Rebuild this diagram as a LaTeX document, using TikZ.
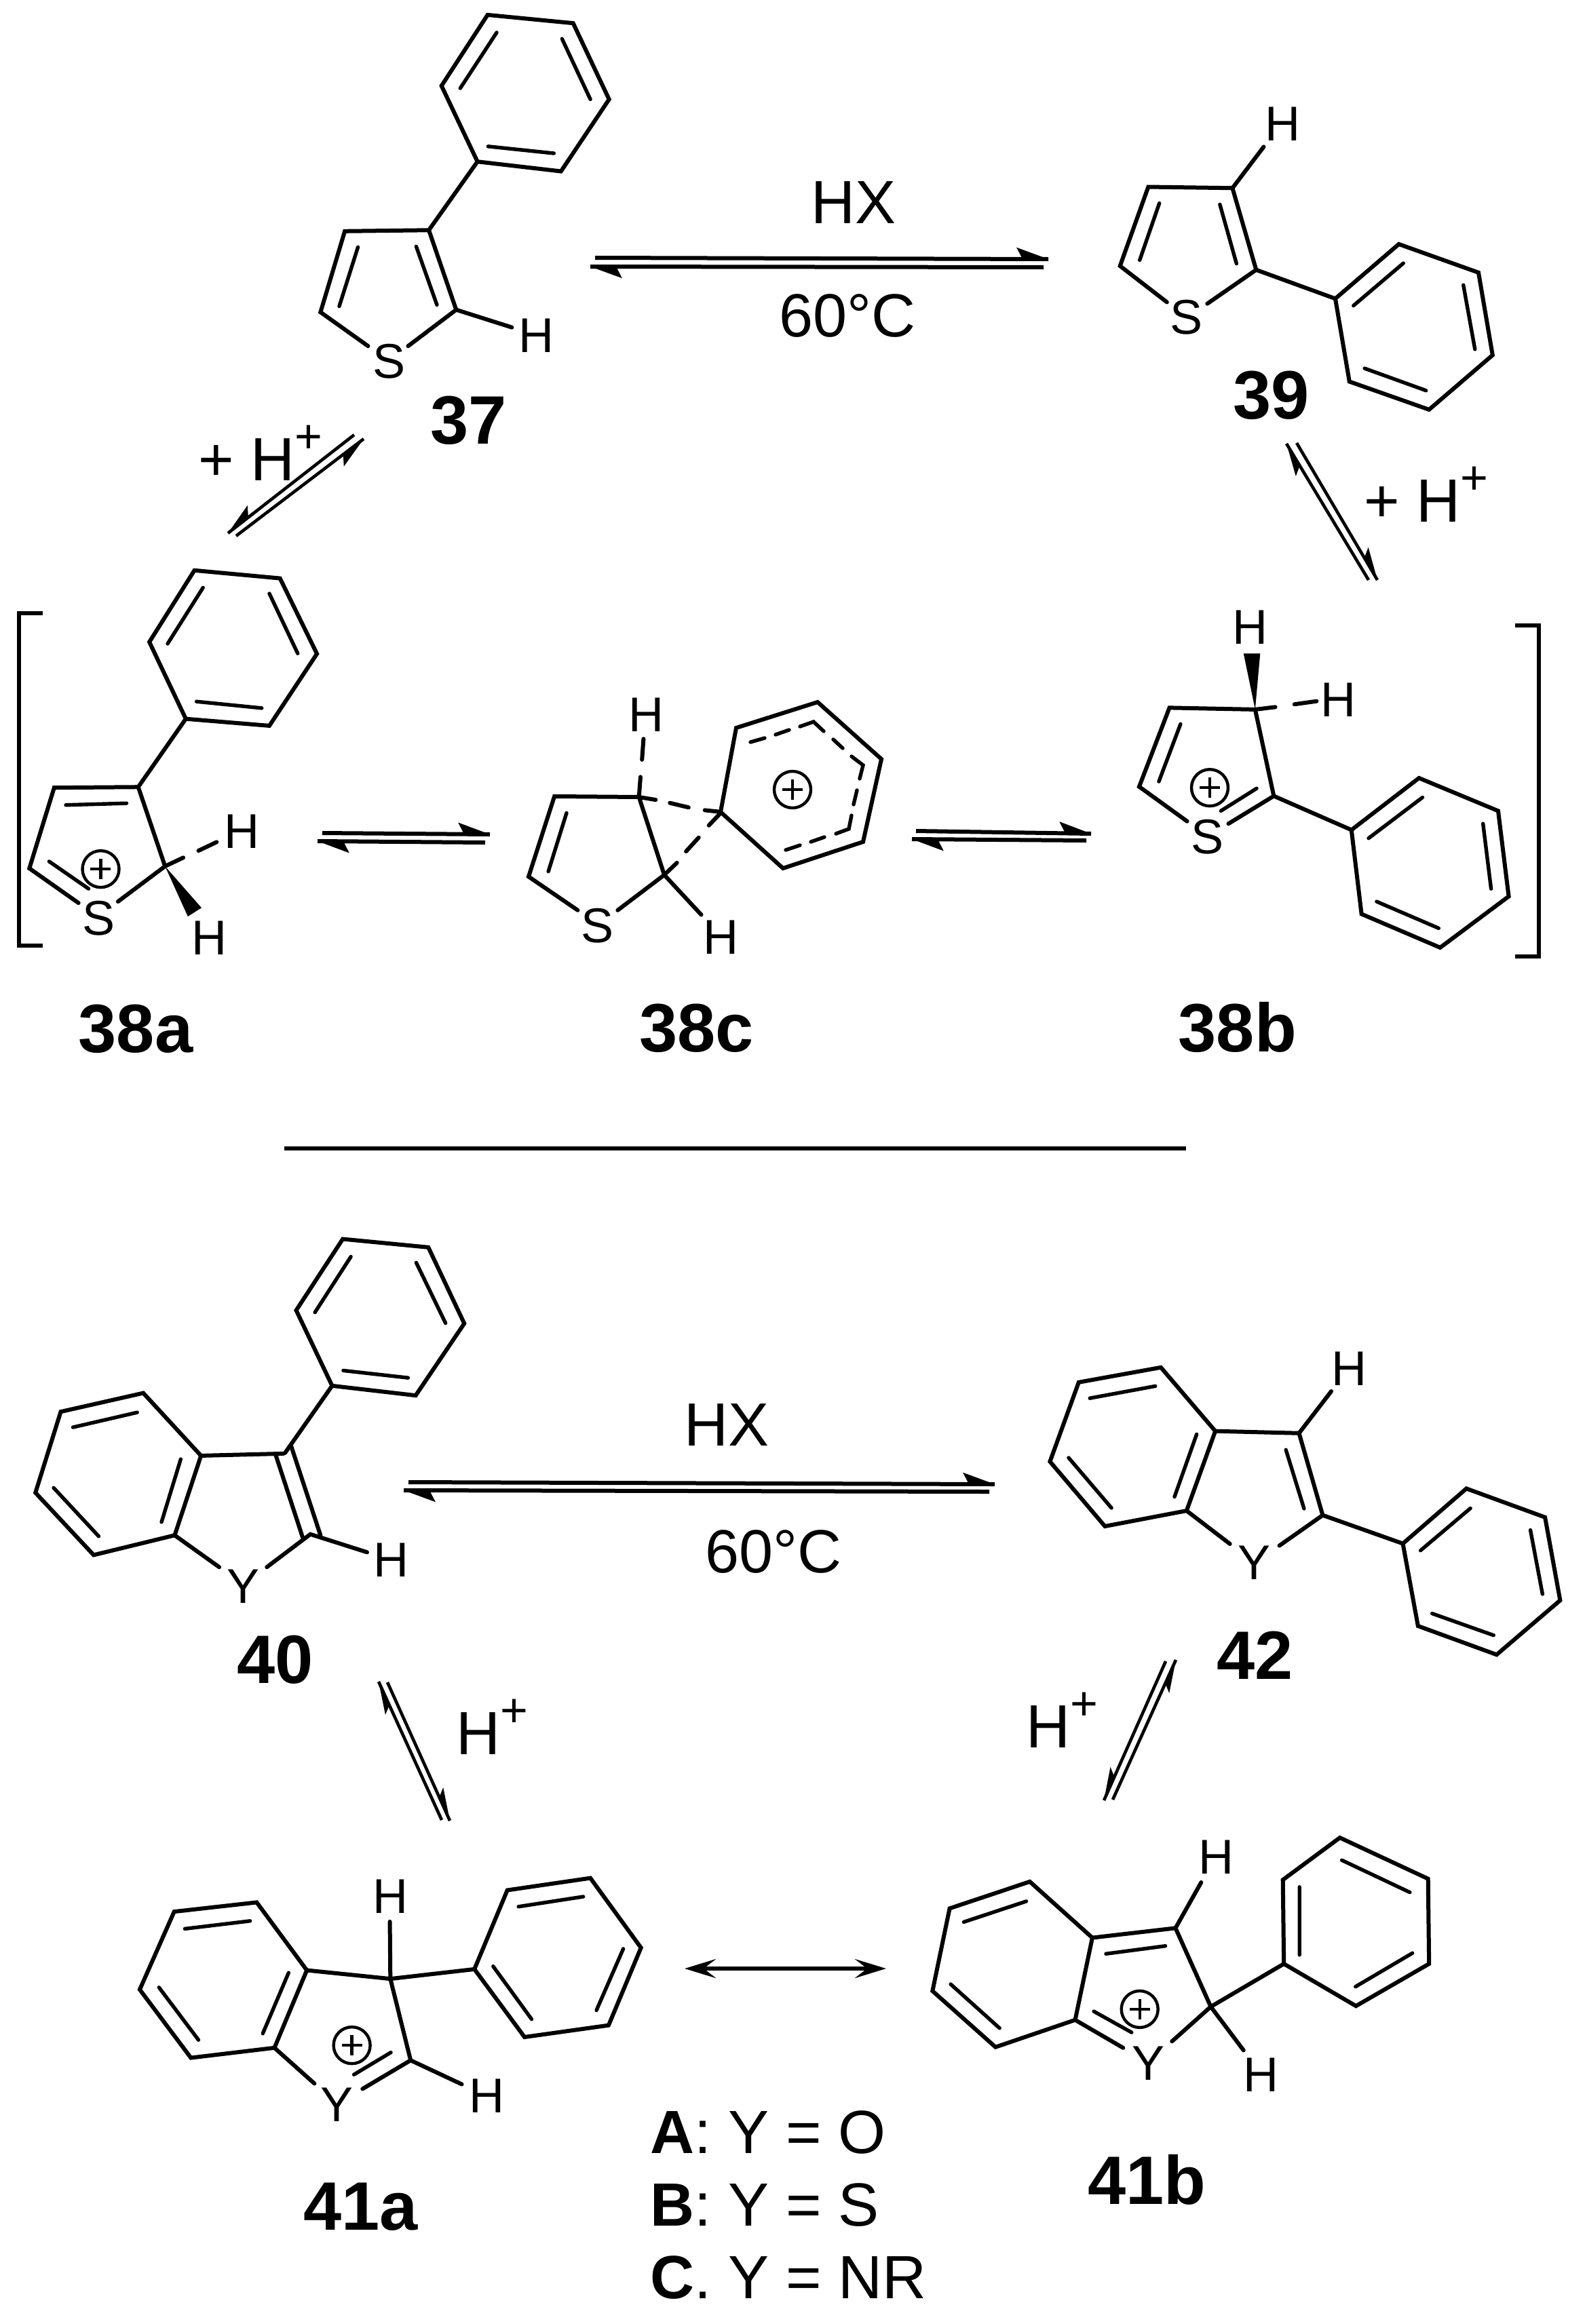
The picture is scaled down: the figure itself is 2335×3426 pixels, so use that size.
\documentclass[tikz,border=0pt]{standalone}
\usepackage{fontspec}
\setmainfont{Liberation Sans}
\usetikzlibrary{calc,arrows.meta}
\tikzset{
  bond/.style={line width=6pt,line cap=round,line join=miter},
  inner bond/.style={line width=5.4pt,line cap=round},
  eqline/.style={line width=6pt},
  diagline/.style={line width=4.6pt},
  atom/.style={inner sep=0pt,font=\fontsize{72}{72}\selectfont},
  cond/.style={inner sep=0pt,font=\fontsize{90}{90}\selectfont},
  cmpd/.style={inner sep=0pt,font=\fontsize{101}{101}\selectfont\bfseries},
  cplus/.style={circle,draw,line width=4.4pt,minimum size=54pt,inner sep=0pt,
    path picture={\draw[line width=4.4pt] ([xshift=-15pt]path picture bounding box.center) -- ([xshift=15pt]path picture bounding box.center);
      \draw[line width=4.4pt] ([yshift=-15pt]path picture bounding box.center) -- ([yshift=15pt]path picture bounding box.center);}},
  zA/.style={shift={(0pt,0pt)},x=.7462pt,y=-.5102pt},
  zB/.style={shift={(1170pt,0pt)},x=.743pt,y=-.574pt},
  zC/.style={shift={(0pt,-800pt)},x=.7462pt,y=-.5102pt},
  zD/.style={shift={(1170pt,-800pt)},x=.743pt,y=-.5102pt},
  zE/.style={shift={(0pt,-1800pt)},x=.7462pt,y=-.5102pt},
  zF/.style={shift={(1170pt,-1800pt)},x=.743pt,y=-.5102pt},
  zG/.style={shift={(100pt,-2600pt)},x=.7462pt,y=-.5268pt},
  zH/.style={shift={(1170pt,-2600pt)},x=.743pt,y=-.5268pt},
}
\newcommand{\halfarrow}[4][eqline]{%
  \draw[#1] (#2) -- (#3);
  \fill (#3) -- ($(#3)!50pt!#4:(#2)$) -- ($(#3)!38pt!(#2)$) -- cycle;}
\newcommand{\Hplus}{H\raisebox{0.45em}{\fontsize{70}{70}\selectfont +}}
\begin{document}
\begin{tikzpicture}[x=1pt,y=-1pt]
\useasboundingbox (0,0) rectangle (2335,3426);
\fill[white] (0,0) rectangle (2335,3426);

% ---------- equilibrium arrows
\coordinate (a1a) at (877,380); \coordinate (a1b) at (1545,382);
\coordinate (a1c) at (1538,394); \coordinate (a1d) at (870,393);
\halfarrow{a1a}{a1b}{-20}\halfarrow{a1c}{a1d}{-20}
\coordinate (a2a) at (522,641); \coordinate (a2b) at (336,786);
\coordinate (a2c) at (348,790); \coordinate (a2d) at (536,647);
\halfarrow[diagline]{a2a}{a2b}{17}\halfarrow[diagline]{a2c}{a2d}{17}
\coordinate (a3a) at (2017,855); \coordinate (a3b) at (1896,654);
\coordinate (a3c) at (1911,653); \coordinate (a3d) at (2030,855);
\halfarrow[diagline]{a3a}{a3b}{-15}\halfarrow[diagline]{a3c}{a3d}{-15}
\coordinate (a4a) at (475,1228); \coordinate (a4b) at (722,1230);
\coordinate (a4c) at (715,1242); \coordinate (a4d) at (468,1240);
\halfarrow{a4a}{a4b}{-20}\halfarrow{a4c}{a4d}{-20}
\coordinate (a5a) at (1350,1225); \coordinate (a5b) at (1608,1229);
\coordinate (a5c) at (1601,1239); \coordinate (a5d) at (1344,1237);
\halfarrow{a5a}{a5b}{-20}\halfarrow{a5c}{a5d}{-20}
\coordinate (a6a) at (602,2185); \coordinate (a6b) at (1466,2188);
\coordinate (a6c) at (1458,2199); \coordinate (a6d) at (595,2197);
\halfarrow{a6a}{a6b}{-20}\halfarrow{a6c}{a6d}{-20}
\coordinate (a7a) at (651,2683); \coordinate (a7b) at (558,2479);
\coordinate (a7c) at (571,2480); \coordinate (a7d) at (663,2684);
\halfarrow[diagline]{a7a}{a7b}{-13}\halfarrow[diagline]{a7c}{a7d}{-13}
\coordinate (a8a) at (1640,2653); \coordinate (a8b) at (1733,2447);
\coordinate (a8c) at (1718,2449); \coordinate (a8d) at (1627,2654);
\halfarrow[diagline]{a8a}{a8b}{13}\halfarrow[diagline]{a8c}{a8d}{13}
\coordinate (r1) at (1009,2902); \coordinate (r2) at (1306,2902);
\draw[line width=6pt,{Stealth[length=46pt,width=28pt,inset=18pt]}-{Stealth[length=46pt,width=28pt,inset=18pt]}] (r1) -- (r2);
\coordinate (sep1) at (419,1693); \coordinate (sep2) at (1748,1693);
\draw[line width=6pt] (sep1) -- (sep2);

% ---------- reaction texts
\node[cond] (hx1) at (1258,299) {HX};
\node[cond] (t1) at (1249,466) {60°C};
\node[cond] (hx2) at (1071,2101) {HX};
\node[cond] (t2) at (1140,2287) {60°C};
\node[cond,anchor=base west] (hp1) at (292,708) {+ \Hplus};
\node[cond,anchor=base west] (hp2) at (2010,769) {+ \Hplus};
\node[cond,anchor=base west] (hp3) at (672,2586) {\Hplus};
\node[cond,anchor=base west] (hp4) at (1512,2576) {\Hplus};
\node[cond,anchor=base west] (la) at (958,3174) {\textbf{A}: Y = O};
\node[cond,anchor=base west] (lb) at (958,3281) {\textbf{B}: Y = S};
\node[cond,anchor=base west] (lc) at (958,3388) {\textbf{C}. Y = NR};

% ---------- 37
\begin{scope}[zA]
\draw[bond] (963,43)--(1132,67)--(1203,287)--(1108,495)--(943,467)--(872,248)--cycle;
\draw[inner bond] (981,94)--(909,255) (1110,112)--(1166,287) (1094,443)--(964,423);
\draw[bond] (943,467)--(847,665);
\draw[bond] (727,1000)--(633,902)--(681,668)--(847,665)--(901,895)--(806,1000);
\draw[inner bond] (707,714)--(670,885) (822,712)--(863,881);
\draw[bond] (901,895)--(1011,946);
\node[atom] (s37) at (768,1045) {S};
\node[atom] (h37) at (1060,970) {H};
\node[cmpd] (n37) at (925,1215) {37};
\end{scope}

% ---------- 39
\begin{scope}[zB]
\draw[bond] (1200,627)--(1358,700)--(1386,912)--(1260,1052)--(1102,980)--(1074,767)--cycle;
\draw[inner bond] (1209,676)--(1110,785) (1328,732)--(1351,897) (1254,1003)--(1132,946);
\draw[bond] (917,693)--(1074,767);
\draw[bond] (740,776)--(647,683)--(703,480)--(870,483)--(917,693)--(820,780);
\draw[inner bond] (725,522)--(686,668) (845,525)--(878,677);
\draw[bond] (870,483)--(932,377);
\node[atom] (s39) at (779,815) {S};
\node[atom] (h39) at (970,318) {H};
\node[cmpd] (n39) at (947,1015) {39};
\end{scope}

% ---------- 38a and left bracket
\begin{scope}[zC]
\draw[bond,line cap=butt] (85,203)--(37,203)--(37,1165)--(85,1165);
\draw[bond] (384,80)--(553,103)--(626,321)--(532,529)--(367,509)--(295,287)--cycle;
\draw[inner bond] (401,130)--(331,292) (532,147)--(588,320) (517,478)--(388,459);
\draw[bond] (367,509)--(273,706);
\draw[bond] (155,1041)--(58,941)--(107,708)--(273,706)--(326,935)--(233,1037);
\draw[inner bond] (130,758)--(250,753) (97,921)--(175,1000);
\draw[bond] (326,935)--(362,910) (392,890)--(428,865);
\fill (326,935)--(398,1055)--(371,1080)--cycle;
\node[atom] (s38a) at (195,1085) {S};
\node[atom] (h38a1) at (478,835) {H};
\node[atom] (h38a2) at (414,1143) {H};
\node[cplus] (p38a) at (199,943) {};
\node[cmpd] (n38a) at (268,1405) {38a};
\end{scope}

% ---------- 38c
\begin{scope}[zC]
\draw[bond] (1141,1062)--(1044,965)--(1095,733)--(1262,735)--(1312,960)--(1220,1062);
\draw[inner bond] (1119,781)--(1083,950);
\draw[bond] (1262,735)--(1265,677) (1268,627)--(1271,567);
\draw[bond] (1262,735)--(1295,743) (1323,752)--(1360,765) (1392,773)--(1424,778);
\draw[bond] (1312,960)--(1337,925) (1355,892)--(1380,852) (1400,817)--(1424,780);
\draw[bond] (1312,960)--(1385,1075);
\node[atom] (h38c1) at (1277,497) {H};
\node[atom] (h38c2) at (1424,1140) {H};
\node[atom] (s38c) at (1180,1107) {S};
\node[cmpd] (n38c) at (1376,1403) {38c};
\end{scope}
\draw[bond] (1062,1197)--(1085,1073)--(1205,1035)--(1299,1119)--(1272,1241)--(1154,1280)--cycle;
\draw[inner bond] (1106,1094)--(1127,1088) (1143,1083)--(1163,1076)
  (1179,1071)--(1199,1064)--(1214,1078) (1228,1090)--(1242,1103)
  (1255,1115)--(1272,1128)--(1267,1148) (1263,1165)--(1258,1186)
  (1255,1202)--(1251,1222)--(1232,1229) (1215,1234)--(1195,1241) (1179,1246)--(1158,1253);
\node[cplus] (p38c) at (1168,1164) {};

% ---------- 38b and right bracket
\begin{scope}[zD]
\draw[bond,line cap=butt] (1430,240)--(1478,240)--(1478,1196)--(1430,1196);
\draw[bond] (1240,680)--(1397,775)--(1418,1022)--(1282,1170)--(1126,1073)--(1106,830)--cycle;
\draw[inner bond] (1247,736)--(1140,854) (1367,812)--(1383,1000) (1279,1114)--(1156,1037);
\draw[bond] (952,732)--(1106,830);
\draw[bond] (780,805)--(685,705)--(745,477)--(915,482)--(952,732)--(862,812);
\draw[inner bond] (767,524)--(724,690) (918,710)--(847,775);
\fill (915,482)--(892,320)--(925,320)--cycle;
\draw[bond] (915,482)--(955,475) (993,467)--(1037,458);
\node[atom] (h38b1) at (905,245) {H};
\node[atom] (h38b2) at (1080,455) {H};
\node[atom] (s38b) at (820,850) {S};
\node[cplus] (p38b) at (825,708) {};
\node[cmpd] (n38b) at (880,1400) {38b};
\end{scope}

% ---------- 40
\begin{scope}[zE]
\draw[bond] (677,52)--(846,76)--(917,296)--(821,504)--(656,476)--(585,258)--cycle;
\draw[inner bond] (693,103)--(622,264) (822,120)--(880,295) (806,453)--(678,432);
\draw[bond] (656,476)--(563,670);
\draw[bond] (397,678)--(283,497)--(120,551)--(70,785)--(185,965)--(345,908)--cycle;
\draw[inner bond] (271,553)--(144,596) (106,771)--(195,911) (357,688)--(319,870);
\draw[bond] (397,678)--(560,672);
\draw[bond] (545,678)--(598,915);
\draw[bond] (575,650)--(633,908);
\draw[bond] (433,1000)--(345,908);
\draw[bond] (527,1000)--(613,905)--(725,957);
\node[atom] (y40) at (480,1055) {Y};
\node[atom] (h40) at (773,980) {H};
\node[cmpd] (n40) at (543,1268) {40};
\end{scope}

% ---------- 42
\begin{scope}[zF]
\draw[bond] (836,607)--(728,423)--(565,466)--(508,695)--(617,882)--(779,837)--cycle;
\draw[inner bond] (717,477)--(587,512) (545,684)--(630,829) (799,616)--(755,797);
\draw[bond] (865,933)--(779,837);
\draw[bond] (836,607)--(1002,613)--(1049,850)--(963,938);
\draw[inner bond] (976,661)--(1012,831);
\draw[bond] (1002,613)--(1066,492);
\draw[bond] (1049,850)--(1208,932);
\draw[bond] (1334,773)--(1490,856)--(1520,1096)--(1394,1253)--(1238,1170)--(1208,932)--cycle;
\draw[inner bond] (1342,830)--(1243,952) (1461,893)--(1485,1078) (1388,1197)--(1266,1134);
\node[atom] (y42) at (913,988) {Y};
\node[atom] (h42) at (1102,427) {H};
\node[cmpd] (n42) at (915,1255) {42};
\end{scope}

% ---------- 41a
\begin{scope}[zG]
\draw[bond] (472,578)--(373,388)--(210,414)--(142,632)--(243,823)--(408,795)--cycle;
\draw[inner bond] (360,440)--(231,462) (180,626)--(258,773) (436,585)--(385,755);
\draw[bond] (487,895)--(408,795);
\draw[bond] (472,578)--(637,602)--(677,830)--(582,910);
\draw[inner bond] (638,808)--(565,870);
\draw[bond] (637,602)--(636,442);
\draw[bond] (677,830)--(778,897);
\draw[bond] (637,602)--(803,575);
\draw[bond] (803,575)--(868,354)--(1032,320)--(1132,515)--(1068,732)--(902,765)--cycle;
\draw[inner bond] (1018,372)--(890,400) (1097,518)--(1044,690) (916,715)--(840,567);
\node[atom] (h41a1) at (637,372) {H};
\node[atom] (h41a2) at (827,930) {H};
\node[atom] (y41a) at (532,955) {Y};
\node[cplus] (p41a) at (561,788) {};
\node[cmpd] (n41a) at (578,1240) {41a};
\end{scope}

% ---------- 41b
\begin{scope}[zH]
\draw[bond] (592,487)--(468,330)--(309,405)--(275,636)--(400,793)--(558,717)--cycle;
\draw[inner bond] (461,385)--(337,443) (311,617)--(408,740);
\draw[bond] (592,487)--(757,460)--(827,680)--(750,777);
\draw[bond] (558,717)--(653,795);
\draw[inner bond] (737,510)--(619,532) (595,693)--(670,752);
\draw[bond] (757,460)--(808,332);
\draw[bond] (827,680)--(892,802);
\draw[bond] (827,680)--(972,560);
\draw[bond] (972,560)--(970,325)--(1083,207)--(1258,322)--(1260,560)--(1115,678)--cycle;
\draw[inner bond] (1003,345)--(1003,535) (1087,270)--(1222,360) (1227,530)--(1114,624);
\node[atom] (h41b1) at (838,262) {H};
\node[atom] (h41b2) at (926,870) {H};
\node[atom] (y41b) at (703,838) {Y};
\node[cplus] (p41b) at (686,687) {};
\node[cmpd] (n41b) at (700,1165) {41b};
\end{scope}
\end{tikzpicture}
\end{document}
